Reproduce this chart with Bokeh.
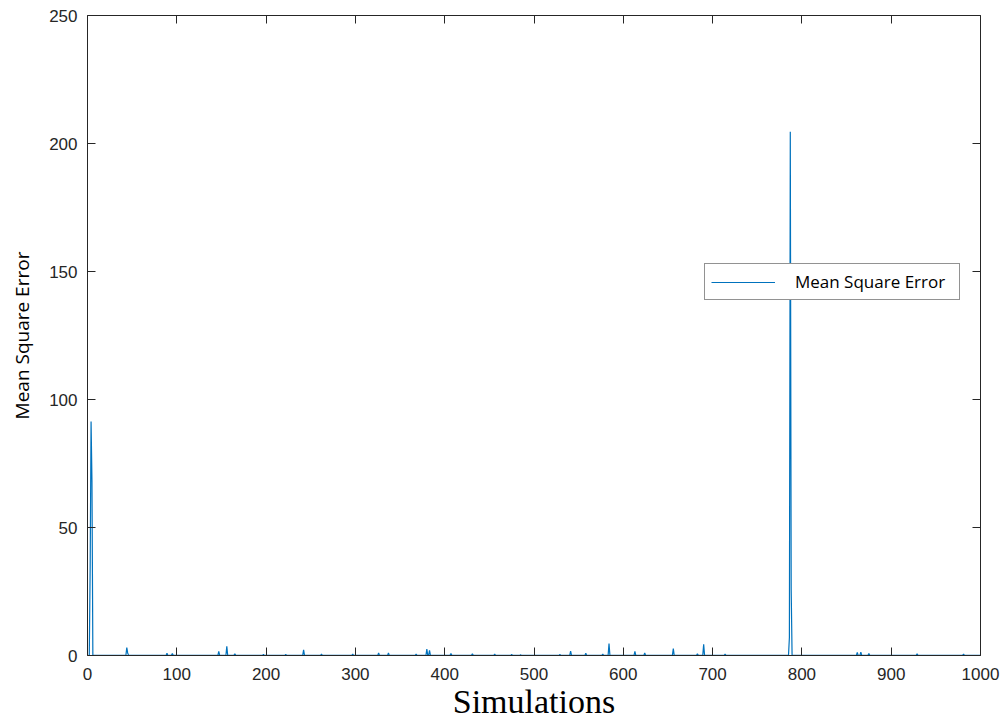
import numpy as np
from bokeh.plotting import figure
from bokeh.models import (LinearAxis, Legend, LegendItem, Range1d, FixedTicker,
                          CustomJSTickFormatter, ColumnDataSource)
from bokeh.embed import file_html
from bokeh.resources import INLINE

# ---- data ----
n_sims = 1000
baseline_mse = 0.05
spike_sims = [3, 4, 5, 44, 45, 89, 95, 147, 156, 165, 197, 222, 242, 262, 297,
              326, 337, 368, 380, 383, 407, 431, 456, 475, 485, 529, 541, 558,
              577, 584, 613, 624, 656, 683, 690, 714, 786, 787, 788, 862, 866,
              875, 929, 981]
spike_mse = [35.0, 91.4, 68.0, 3.1, 1.0, 0.9, 0.8, 1.6, 3.6, 0.7, 0.4, 0.4, 2.2,
             0.5, 0.5, 1.0, 1.0, 0.5, 2.5, 2.0, 0.8, 0.7, 0.5, 0.4, 0.3, 0.4,
             1.7, 0.9, 0.5, 4.7, 1.6, 1.0, 2.7, 0.7, 4.4, 0.5, 7.0, 204.6, 26.0,
             1.2, 1.3, 0.8, 0.7, 0.6]
x_ticks = [0, 100, 200, 300, 400, 500, 600, 700, 800, 900, 1000]
y_ticks = [0, 50, 100, 150, 200, 250]

sims = np.arange(1, n_sims + 1)
mse = np.full(n_sims, baseline_mse)
for s, v in zip(spike_sims, spike_mse):
    mse[s - 1] = v
src = ColumnDataSource(dict(x=sims, y=mse))

TICK_FONT = "Liberation Sans"
p = figure(width=1008, height=722, output_backend="svg", toolbar_location=None,
           x_range=Range1d(0, 1000), y_range=Range1d(0, 250),
           min_border_left=87, min_border_right=28, min_border_top=15,
           min_border_bottom=66)
p.xgrid.visible = False
p.ygrid.visible = False
p.outline_line_color = None

r = p.line("x", "y", source=src, line_color="#0072BD", line_width=1.2)

def style(ax, ticks, labels=True):
    ax.ticker = FixedTicker(ticks=ticks)
    ax.major_tick_in = 8
    ax.major_tick_out = 0
    ax.minor_tick_in = 0
    ax.minor_tick_out = 0
    ax.axis_line_color = "#262626"
    ax.major_tick_line_color = "#262626"
    ax.major_label_text_font = TICK_FONT
    ax.major_label_text_font_size = "17px"
    ax.major_label_text_color = "#262626"
    if not labels:
        ax.formatter = CustomJSTickFormatter(code="return ''")
        ax.major_label_standoff = 0

style(p.xaxis[0], x_ticks)
style(p.yaxis[0], y_ticks)
p.xaxis[0].major_label_standoff = 12
p.yaxis[0].major_label_standoff = 10

p.xaxis[0].axis_label = "Simulations"
p.xaxis[0].axis_label_text_font = "Liberation Serif"
p.xaxis[0].axis_label_text_font_style = "normal"
p.xaxis[0].axis_label_text_font_size = "34px"
p.xaxis[0].axis_label_text_color = "black"
p.xaxis[0].axis_label_standoff = 0

p.yaxis[0].axis_label = "Mean Square Error"
p.yaxis[0].axis_label_text_font = "Open Sans"
p.yaxis[0].axis_label_text_font_style = "normal"
p.yaxis[0].axis_label_text_font_size = "19px"
p.yaxis[0].axis_label_text_color = "black"
p.yaxis[0].axis_label_standoff = 11

top = LinearAxis()
style(top, x_ticks, labels=False)
p.add_layout(top, "above")
right = LinearAxis()
style(right, y_ticks, labels=False)
p.add_layout(right, "right")

legend = Legend(items=[LegendItem(label="Mean Square Error", renderers=[r])],
                location=(617, 355), orientation="vertical",
                label_text_font="Open Sans", label_text_font_size="17px",
                label_text_color="black", glyph_width=64, glyph_height=14,
                label_height=14, label_width=158, label_standoff=20,
                padding=6, spacing=0, margin=0, border_line_color="#262626",
                background_fill_color="white", background_fill_alpha=1.0)
p.add_layout(legend, "center")

open("out.html", "w").write(file_html(p, INLINE))
